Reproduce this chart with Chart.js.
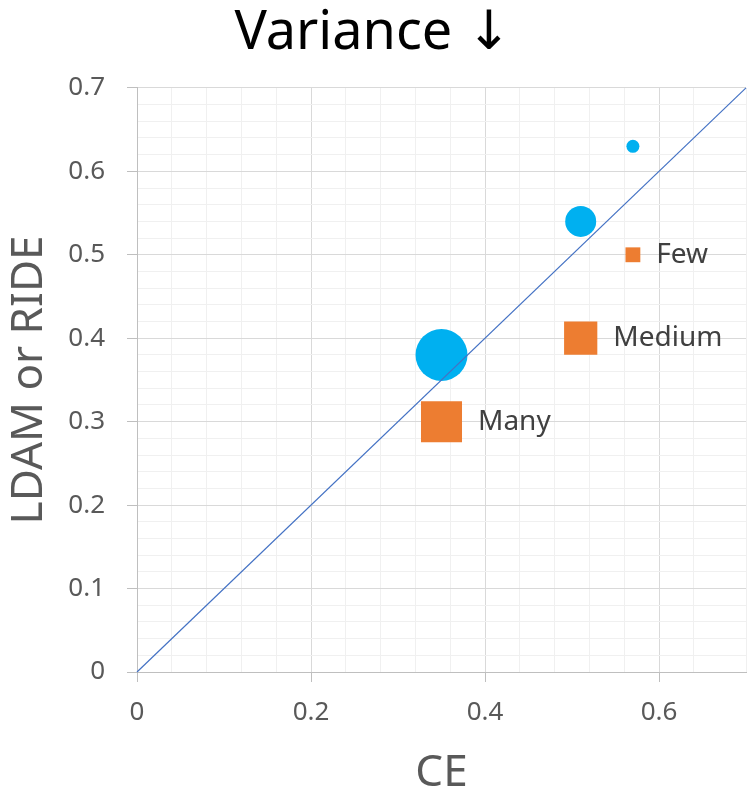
<!DOCTYPE html>
<html>
<head>
<meta charset="utf-8">
<script src="https://cdn.jsdelivr.net/npm/chart.js@4/dist/chart.umd.min.js"></script>
<style>
  body { margin: 0; background: #fff; }
  #wrap { width: 748px; height: 796px; }
</style>
</head>
<body>
<div id="wrap"><canvas id="varianceChart" width="748" height="796"></canvas></div>
<script>
// Data
const groups = ['Many', 'Medium', 'Few'];
const ceValues = [0.35, 0.51, 0.57];
const rideBlue = [0.38, 0.54, 0.63];
const rideOrange = [0.30, 0.40, 0.50];
const blueSize = [26, 15.5, 6.5];
const orangeSize = [29, 23.5, 10.5];
const diagX = [0, 0.7];
const diagY = [0, 0.7];

const FONT = '"Noto Sans", "DejaVu Sans", sans-serif';

function isMajor(v, step) {
  const q = v / step;
  return Math.abs(q - Math.round(q)) < 1e-6;
}

// Text labels to the right of the orange squares
const groupLabels = {
  id: 'groupLabels',
  afterDatasetsDraw(chart) {
    const meta = chart.getDatasetMeta(1);
    const ctx = chart.ctx;
    ctx.save();
    ctx.font = '28px ' + FONT;
    ctx.fillStyle = '#404040';
    ctx.textBaseline = 'middle';
    ctx.textAlign = 'left';
    meta.data.forEach((el, i) => {
      const half = el.options.radius * Math.SQRT1_2;
      ctx.fillText(groups[i], el.x + half + 16, el.y);
    });
    ctx.restore();
  }
};

const ctx = document.getElementById('varianceChart').getContext('2d');
new Chart(ctx, {
  type: 'bubble',
  data: {
    datasets: [{
      label: 'LDAM or RIDE',
      data: ceValues.map((x, i) => ({ x: x, y: rideBlue[i], r: blueSize[i] })),
      backgroundColor: '#00b0f0',
      borderWidth: 0,
      hoverRadius: 0,
      order: 1
    }, {
      label: 'Groups',
      data: ceValues.map((x, i) => ({ x: x, y: rideOrange[i], r: orangeSize[i] })),
      backgroundColor: '#ed7d31',
      borderWidth: 0,
      hoverRadius: 0,
      pointStyle: 'rect',
      order: 2
    }, {
      type: 'line',
      label: 'y = x',
      data: diagX.map((x, i) => ({ x: x, y: diagY[i] })),
      borderColor: '#4472c4',
      borderWidth: 1.2,
      pointRadius: 0,
      fill: false,
      clip: false,
      order: 0
    }]
  },
  options: {
    responsive: false,
    animation: false,
    layout: { autoPadding: false, padding: { top: 0, right: 2, bottom: 0, left: 0 } },
    plugins: {
      legend: { display: false },
      tooltip: { enabled: false },
      title: {
        display: true,
        text: 'Variance ↓',
        color: '#000',
        font: { family: FONT, size: 54, weight: 'normal', lineHeight: 0.85 },
        padding: { top: 11, bottom: 31 }
      }
    },
    scales: {
      x: {
        type: 'linear',
        min: 0,
        max: 0.7,
        afterFit: s => { s.height = 124; s.paddingLeft = 0; s.paddingRight = 0; },
        border: { color: '#bfbfbf' },
        grid: {
          color: c => isMajor(c.tick.value, 0.2) ? '#d9d9d9' : '#f0f0f0',
          tickColor: c => isMajor(c.tick.value, 0.2) ? '#bfbfbf' : 'transparent',
          tickLength: 10
        },
        ticks: {
          stepSize: 0.04,
          autoSkip: false,
          maxRotation: 0,
          padding: 15,
          color: '#595959',
          font: { family: FONT, size: 26 },
          callback: v => (isMajor(v, 0.2) && v < 0.69) ? String(Math.round(v * 10) / 10) : ''
        },
        title: {
          display: true,
          text: 'CE',
          color: '#595959',
          font: { family: FONT, size: 44, lineHeight: 1 },
          padding: { top: 0, bottom: 1 }
        }
      },
      y: {
        type: 'linear',
        min: 0,
        max: 0.7,
        afterFit: s => { s.width = 137; },
        border: { color: '#bfbfbf' },
        grid: {
          color: c => isMajor(c.tick.value, 0.1) ? '#d9d9d9' : '#f0f0f0',
          tickColor: c => isMajor(c.tick.value, 0.1) ? '#bfbfbf' : 'transparent',
          tickLength: 10
        },
        ticks: {
          stepSize: 0.02,
          autoSkip: false,
          padding: 22,
          color: '#595959',
          font: { family: FONT, size: 26 },
          callback: v => isMajor(v, 0.1) ? String(Math.round(v * 10) / 10) : ''
        },
        title: {
          display: true,
          text: 'LDAM or RIDE',
          color: '#595959',
          font: { family: FONT, size: 44, lineHeight: 1 },
          padding: { top: 7, bottom: 0 }
        }
      }
    }
  },
  plugins: [groupLabels]
});
</script>
</body>
</html>
